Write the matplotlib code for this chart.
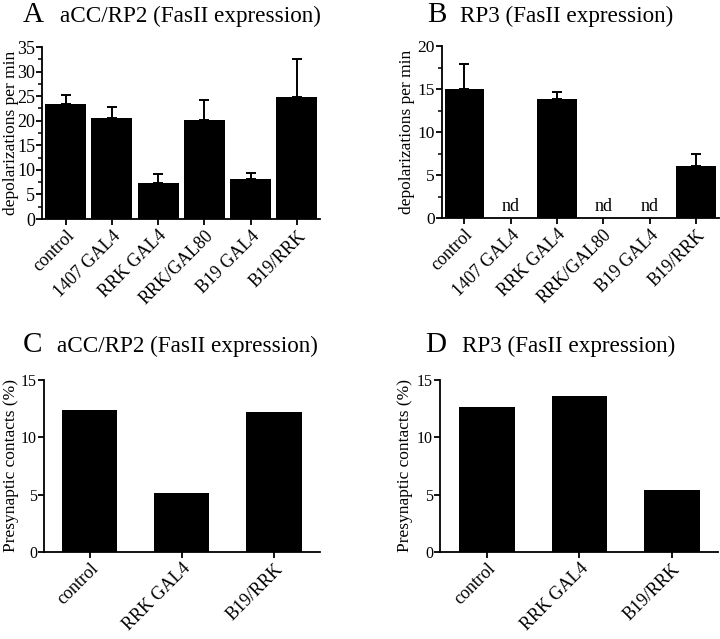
import numpy as np
import matplotlib
matplotlib.use("Agg")
import matplotlib.pyplot as plt
from matplotlib.ticker import MultipleLocator

# --- DATA ---
cats_ab = ["control", "1407 GAL4", "RRK GAL4", "RRK/GAL80", "B19 GAL4", "B19/RRK"]
a_vals = [23.4, 20.5, 7.3, 20.2, 8.1, 24.8]
a_err = [1.9, 2.3, 1.8, 4.0, 1.2, 7.8]
b_vals = [15.0, None, 13.8, None, None, 6.0]   # None = not determined (nd)
b_err = [2.9, None, 0.85, None, None, 1.45]

cats_cd = ["control", "RRK GAL4", "B19/RRK"]
c_vals = [12.35, 5.17, 12.18]
d_vals = [12.67, 13.58, 5.38]

W, H = 720, 639
plt.rcParams["font.family"] = ["Liberation Serif", "DejaVu Serif"]
plt.rcParams["axes.linewidth"] = 1.3

fig = plt.figure(figsize=(W / 100, H / 100), dpi=100)


def add_ax(x0, y_top, x1, y_bot):
    # pixel box -> figure fraction
    return fig.add_axes([x0 / W, 1 - y_bot / H, (x1 - x0) / W, (y_bot - y_top) / H])


def style(ax, ymax, ystep, minor=False, tick_fs=13):
    for s in ["top", "right"]:
        ax.spines[s].set_visible(False)
    ax.set_ylim(0, ymax)
    ax.yaxis.set_major_locator(MultipleLocator(ystep))
    if minor:
        ax.yaxis.set_minor_locator(MultipleLocator(ystep / 2))
    ax.tick_params(axis="y", direction="out", length=4, width=1.3, labelsize=tick_fs, pad=1)
    ax.tick_params(axis="y", which="minor", length=3, width=1.1)
    ax.tick_params(axis="x", direction="out", length=4, width=1.3, labelsize=13, pad=2)


def cat_labels(ax, cats):
    ax.set_xticks(range(len(cats)))
    ax.set_xticklabels(cats, rotation=45, ha="right", va="top", rotation_mode="anchor")


def ylab(ax, text, xpos):
    ax.set_ylabel(text, fontsize=12.5)
    ax.yaxis.set_label_coords(xpos, 0.5)


# ---- Panel A ----
axA = add_ax(42, 47, 320, 219)
x = np.arange(len(cats_ab))
axA.bar(x, a_vals, width=0.89, color="black")
axA.errorbar(x, a_vals, yerr=[np.zeros(len(a_err)), a_err], fmt="none",
             ecolor="black", elinewidth=1.4, capsize=3.5, capthick=1.4)
axA.set_xlim(-0.51, 5.5)
style(axA, 35, 5, minor=True)
cat_labels(axA, cats_ab)
ylab(axA, "depolarizations per min", -0.0845)

# ---- Panel B ----
axB = add_ax(442, 46, 719, 218)
bx = [i for i, v in enumerate(b_vals) if v is not None]
bv = [v for v in b_vals if v is not None]
be = [e for e in b_err if e is not None]
axB.bar(bx, bv, width=0.85, color="black")
axB.errorbar(bx, bv, yerr=[np.zeros(len(be)), be], fmt="none",
             ecolor="black", elinewidth=1.4, capsize=3.5, capthick=1.4)
for i, v in enumerate(b_vals):
    if v is None:
        axB.text(i, 0.4, "nd", ha="center", va="bottom", fontsize=13)
axB.set_xlim(-0.48, 5.5)
style(axB, 20, 5, minor=True, tick_fs=12.5)
cat_labels(axB, cats_ab)
ylab(axB, "depolarizations per min", -0.097)

# ---- Panel C ----
axC = add_ax(44, 380, 320, 552)
xc = np.arange(len(cats_cd))
axC.bar(xc, c_vals, width=0.6, color="black")
axC.set_xlim(-0.495, 2.5)
style(axC, 15, 5, tick_fs=11.5)
cat_labels(axC, cats_cd)
ylab(axC, "Presynaptic contacts (%)", -0.092)

# ---- Panel D ----
axD = add_ax(440, 380, 718, 552)
axD.bar(xc, d_vals, width=0.6, color="black")
axD.set_xlim(-0.51, 2.5)
style(axD, 15, 5, tick_fs=11.5)
cat_labels(axD, cats_cd)
ylab(axD, "Presynaptic contacts (%)", -0.097)

# ---- Panel titles ----
titles = [
    ("A", 23, 60, 22, "aCC/RP2 (FasII expression)"),
    ("B", 427, 460, 22, "RP3 (FasII expression)"),
    ("C", 23, 57, 352, "aCC/RP2 (FasII expression)"),
    ("D", 425, 462, 352, "RP3 (FasII expression)"),
]
for letter, lx, tx, base, txt in titles:
    fig.text(lx / W, 1 - base / H, letter, fontsize=21, va="baseline", ha="left")
    fig.text(tx / W, 1 - base / H, txt, fontsize=16.7, va="baseline", ha="left")

fig.savefig("out.png", dpi=100)
